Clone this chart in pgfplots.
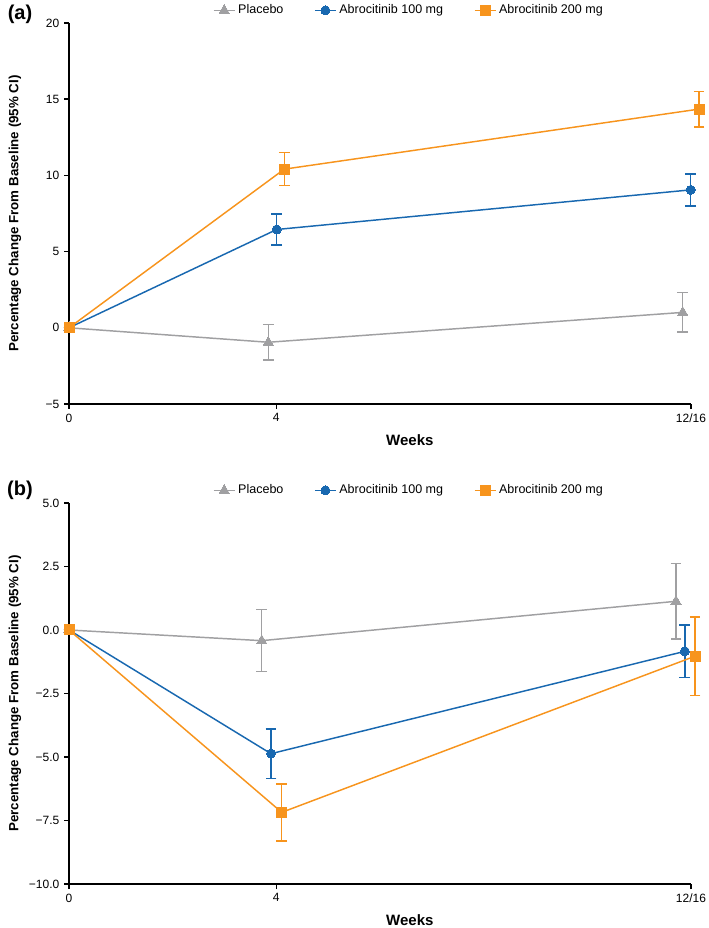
\documentclass[border=0pt]{standalone}
\usepackage{fontspec}
\setmainfont{Liberation Sans}
\usepackage{pgfplots}
\pgfplotsset{compat=1.18}
\definecolor{cgray}{RGB}{160,160,162}
\definecolor{cblue}{RGB}{24,104,176}
\definecolor{corange}{RGB}{247,148,29}

\pgfplotsset{
  common/.style={
    scale only axis, width=466.5pt, height=285.75pt,
    xmin=0, xmax=12, clip=false,
    axis x line=bottom, axis y line=left,
    axis line style={line width=1.1pt, black, -},
    every tick/.style={black, line width=1.1pt},
    tick align=outside, major tick length=3.75pt,
    xtick={0,4,12}, xticklabels={0,4,12/16},
    tick label style={font=\fontsize{9}{10}\selectfont},
    /pgf/number format/assume math mode=true,
    xlabel={Weeks},
    xlabel style={font=\bfseries\fontsize{11.25}{13}\selectfont, at={(axis description cs:0.548,-0.0945)}, anchor=center},
    ylabel={Percentage Change From Baseline (95\% CI)},
    ylabel style={font=\bfseries\fontsize{10}{12}\selectfont, at={(axis description cs:-0.087,0.5)}, anchor=center},
    legend columns=3,
    legend style={draw=none, fill=none, at={(axis description cs:0.547,1.033)}, anchor=center,
      font=\fontsize{9.4}{11}\selectfont,
      /tikz/every even column/.append style={column sep=21pt}},
    legend image code/.code={\draw[mark repeat=2,mark phase=2] plot coordinates {(0pt,0pt) (7.9pt,0pt) (15.8pt,0pt)};},
  },
  sgray/.style={color=cgray, line width=1.1pt, mark=triangle*, mark size=4.4pt, mark options={solid, fill=cgray, line width=0pt},
    error bars/.cd, y dir=both, y explicit,
    error bar style={line width=1.1pt, color=cgray},
    error mark options={rotate=90, mark size=4pt, line width=1.1pt, color=cgray}},
  sblue/.style={color=cblue, line width=1.1pt, mark=*, mark size=3.4pt, mark options={solid, fill=cblue, line width=0pt},
    error bars/.cd, y dir=both, y explicit,
    error bar style={line width=1.1pt, color=cblue},
    error mark options={rotate=90, mark size=4pt, line width=1.1pt, color=cblue}},
  sorange/.style={color=corange, line width=1.1pt, mark=square*, mark size=3.75pt, mark options={solid, fill=corange, line width=0pt},
    error bars/.cd, y dir=both, y explicit,
    error bar style={line width=1.1pt, color=corange},
    error mark options={rotate=90, mark size=4pt, line width=1.1pt, color=corange}},
}

\begin{document}
\begin{tikzpicture}
\path[use as bounding box] (0pt,0pt) rectangle (531pt,696pt);

% Panel (a)
\begin{axis}[common, at={(51.75pt,393pt)}, anchor=south west,
  ymin=-5, ymax=20, ytick={-5,0,5,10,15,20}, yticklabels={−5,0,5,10,15,20}]
\addplot[sgray] table[x=x, y=y, y error=e] {
x y e
0 0 0
3.845 -0.95 1.15
11.84 1.01 1.29
};
\addlegendentry{Placebo}
\addplot[sblue] table[x=x, y=y, y error=e] {
x y e
0 0 0
4.007 6.45 1.02
11.995 9.05 1.05
};
\addlegendentry{Abrocitinib 100 mg}
\addplot[sorange] table[x=x, y=y, y error=e] {
x y e
0 0 0
4.154 10.41 1.08
12.155 14.35 1.17
};
\addlegendentry{Abrocitinib 200 mg}
\end{axis}

% Panel (b)
\begin{axis}[common, at={(51.75pt,33pt)}, anchor=south west,
  ymin=-10, ymax=5, ytick={-10,-7.5,-5,-2.5,0,2.5,5},
  yticklabels={−10.0,−7.5,−5.0,−2.5,0.0,2.5,5.0}]
\addplot[sgray] table[x=x, y=y, y error=e] {
x y e
0 0 0
3.718 -0.42 1.22
11.71 1.13 1.48
};
\addlegendentry{Placebo}
\addplot[sblue] table[x=x, y=y, y error=e] {
x y e
0 0 0
3.897 -4.87 0.97
11.88 -0.84 1.03
};
\addlegendentry{Abrocitinib 100 mg}
\addplot[sorange] table[x=x, y=y, y error=e] {
x y e
0 0 0
4.104 -7.18 1.12
12.08 -1.03 1.54
};
\addlegendentry{Abrocitinib 200 mg}
\end{axis}

\node[font=\bfseries\fontsize{15}{18}\selectfont] at (15pt,685.5pt) {(a)};
\node[font=\bfseries\fontsize{15}{18}\selectfont] at (15pt,328.5pt) {(b)};
\end{tikzpicture}
\end{document}
